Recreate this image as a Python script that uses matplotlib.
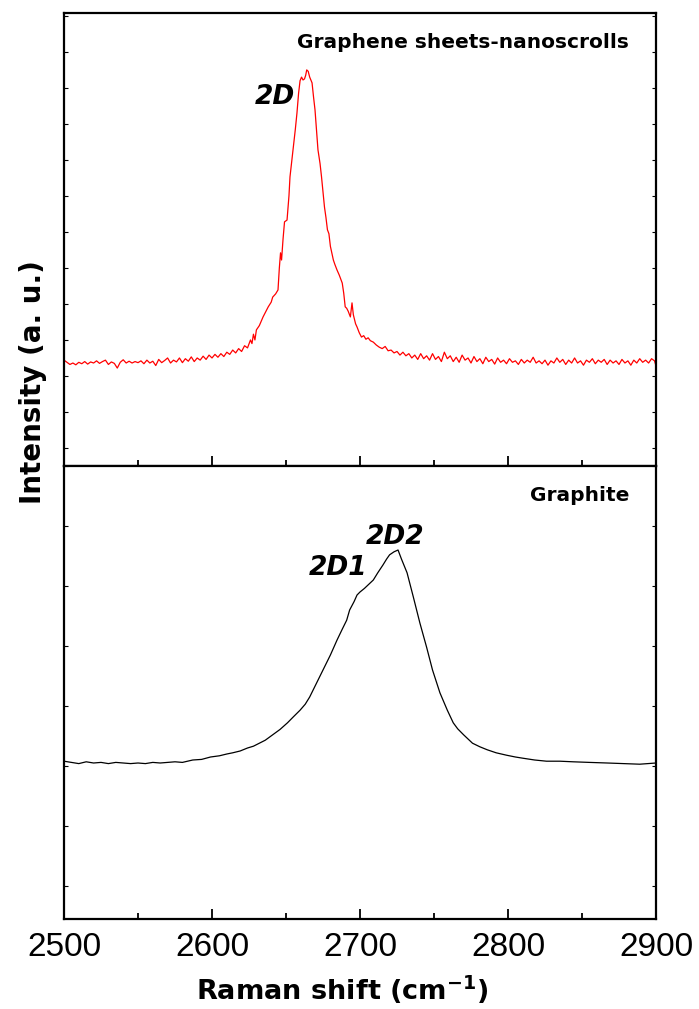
import matplotlib
matplotlib.use("Agg")
import matplotlib.pyplot as plt
from matplotlib.ticker import MultipleLocator
from matplotlib import font_manager

# ---------------- data ----------------
# Graphene sheets-nanoscrolls (red, top panel): (Raman shift cm-1, intensity a.u.)
gns_points = [
    (2500, 244), (2502, 238), (2504, 232), (2506, 236), (2508, 231), (2510, 238), (2512, 234),
    (2514, 240), (2516, 233), (2518, 239), (2520, 236), (2522, 242), (2524, 235), (2526, 240),
    (2528, 244), (2530, 232), (2532, 239), (2534, 235), (2536, 222), (2538, 238), (2540, 245),
    (2542, 236), (2544, 241), (2546, 236), (2548, 240), (2550, 237), (2552, 242), (2554, 234),
    (2556, 244), (2558, 236), (2560, 241), (2562, 229), (2564, 246), (2566, 237), (2568, 243),
    (2570, 250), (2572, 236), (2574, 244), (2576, 239), (2578, 250), (2580, 237), (2582, 248),
    (2584, 241), (2586, 253), (2588, 240), (2590, 250), (2592, 244), (2594, 255), (2596, 246),
    (2598, 258), (2600, 250), (2602, 260), (2604, 252), (2606, 262), (2608, 254), (2610, 266),
    (2612, 260), (2614, 272), (2616, 264), (2618, 276), (2620, 268), (2622, 284), (2624, 278),
    (2626, 300), (2627, 290), (2628, 316), (2629, 300), (2630, 328), (2632, 340), (2634.5, 364),
    (2636, 376), (2638, 392), (2640, 405), (2641, 419), (2643, 428), (2644.6, 439), (2645.5, 500),
    (2646.3, 542), (2647, 522), (2648, 580), (2649, 628), (2650.7, 633), (2652, 700),
    (2652.7, 753), (2654, 800), (2655, 836), (2656.3, 885), (2657.4, 930), (2658.5, 985),
    (2659.5, 1020), (2660.5, 1030), (2661.5, 1022), (2662.5, 1025), (2663.3, 1035), (2664, 1050),
    (2665, 1046), (2666, 1030), (2667.6, 1014), (2668.6, 975), (2669.6, 939), (2670.6, 885),
    (2671.6, 828), (2673, 790), (2674, 753), (2676, 669), (2677, 640), (2678, 606), (2679, 595),
    (2680, 560), (2682, 522), (2683, 510), (2684.5, 494), (2686, 480), (2688, 458), (2689, 430),
    (2690, 392), (2691, 388), (2692, 380), (2693.5, 364), (2694.6, 403), (2695.5, 370),
    (2697, 345), (2698, 336), (2699.5, 320), (2701, 308), (2702.5, 312), (2704, 302),
    (2705.5, 306), (2707, 298), (2709, 294), (2711, 286), (2713, 280), (2715, 276), (2717, 282),
    (2719, 270), (2721, 272), (2723, 264), (2725, 268), (2727, 258), (2729, 266), (2731, 256),
    (2733, 262), (2735, 250), (2737, 258), (2739, 246), (2741, 262), (2743, 248), (2745, 256),
    (2747, 244), (2749, 262), (2751, 246), (2753, 254), (2755, 240), (2757, 266), (2759, 248),
    (2761, 256), (2763, 240), (2765, 252), (2767, 238), (2769, 258), (2771, 244), (2773, 250),
    (2775, 236), (2777, 254), (2779, 240), (2781, 248), (2783, 234), (2785, 252), (2787, 240),
    (2789, 246), (2791, 233), (2793, 250), (2795, 238), (2797, 244), (2799, 234), (2801, 248),
    (2803, 238), (2805, 242), (2807, 232), (2809, 246), (2811, 236), (2813, 244), (2815, 238),
    (2817, 252), (2819, 236), (2821, 242), (2823, 234), (2825, 244), (2827, 230), (2829, 242),
    (2831, 236), (2833, 250), (2835, 238), (2837, 246), (2839, 232), (2841, 244), (2843, 236),
    (2845, 250), (2847, 236), (2849, 242), (2851, 230), (2853, 244), (2855, 238), (2857, 248),
    (2859, 234), (2861, 244), (2863, 238), (2865, 246), (2867, 232), (2869, 244), (2871, 236),
    (2873, 242), (2875, 232), (2877, 246), (2879, 236), (2881, 242), (2883, 230), (2885, 244),
    (2887, 236), (2889, 248), (2891, 238), (2893, 244), (2895, 236), (2897, 248), (2899, 242),
    (2900, 228),
]

# Graphite (black, bottom panel): (Raman shift cm-1, intensity a.u.)
gr_points = [
    (2500, 208), (2505, 206), (2510, 204), (2515, 207), (2520, 205), (2525, 206), (2530, 204),
    (2535, 206), (2540, 205), (2545, 204), (2550, 205), (2555, 204), (2560, 206), (2565, 205),
    (2570, 206), (2575, 207), (2580, 206), (2587, 210), (2593, 211), (2599, 215), (2605, 217),
    (2610, 220), (2614, 222), (2619, 225), (2624, 230), (2628, 233), (2632, 238), (2636, 243),
    (2641, 252), (2646, 261), (2651, 272), (2655, 282), (2659.5, 293), (2663, 303), (2666, 315),
    (2670, 335), (2675, 360), (2680, 385), (2684.5, 410), (2688, 428), (2691, 443), (2693, 460),
    (2696, 474), (2698, 485), (2700, 490), (2703, 496), (2706, 503), (2709, 510), (2712, 522),
    (2715.5, 535), (2718, 545), (2720, 552), (2723, 557), (2725.7, 560), (2728, 545),
    (2731.8, 522), (2736, 482), (2740.5, 438), (2745, 398), (2749, 360), (2754, 322),
    (2759, 293), (2763, 272), (2766, 262), (2770, 252), (2776, 238), (2781, 232), (2786, 227),
    (2792, 222), (2799, 218), (2805, 215), (2810, 213), (2818, 210), (2826, 208), (2835, 208),
    (2844, 207), (2855, 206), (2867, 205), (2878, 204), (2889, 203), (2900, 205),
]

gns_shift = [p[0] for p in gns_points]
gns_int = [p[1] for p in gns_points]
gr_shift = [p[0] for p in gr_points]
gr_int = [p[1] for p in gr_points]

x_ticks = [2500, 2600, 2700, 2800, 2900]
x_tick_labels = ["2500", "2600", "2700", "2800", "2900"]

# ---------------- fonts ----------------
avail = {f.name for f in font_manager.fontManager.ttflist}
narrow = [f for f in ["Liberation Sans Narrow", "Liberation Sans", "DejaVu Sans"] if f in avail]
boldfam = [f for f in ["Noto Sans CJK KR", "DejaVu Sans"] if f in avail]

W, H = 699, 1009
fig = plt.figure(figsize=(W / 100, H / 100), dpi=100)

L, R = 64 / W, 656 / W
ax1 = fig.add_axes([L, 1 - 466 / H, R - L, (466 - 13) / H])
ax2 = fig.add_axes([L, 1 - 919 / H, R - L, (919 - 466) / H])

ax1.plot(gns_shift, gns_int, color="#ff0000", lw=0.9)
ax2.plot(gr_shift, gr_int, color="black", lw=0.9)

ax1.set_ylim(-50, 1208)
ax2.set_ylim(-55, 700)
for ax in (ax1, ax2):
    ax.set_xlim(2500, 2900)
    ax.xaxis.set_major_locator(MultipleLocator(100))
    ax.xaxis.set_minor_locator(MultipleLocator(50))
    ax.yaxis.set_major_locator(MultipleLocator(100))
    ax.tick_params(axis="x", which="major", direction="in", length=7, width=1.3,
                   top=False, bottom=True)
    ax.tick_params(axis="x", which="minor", direction="in", length=4, width=1.3,
                   top=False, bottom=True)
    ax.tick_params(axis="y", which="major", direction="in", length=3, width=0.8,
                   left=True, right=True, labelleft=False)
    for s in ax.spines.values():
        s.set_linewidth(1.6)

ax1.tick_params(axis="x", labelbottom=False)
ax2.set_xticks(x_ticks)
ax2.set_xticklabels(x_tick_labels, family=narrow, fontsize=24)
ax2.tick_params(axis="x", which="major", pad=9)

# panel labels
ax1.text(0.955, 0.935, "Graphene sheets-nanoscrolls", transform=ax1.transAxes,
         ha="right", va="center", family=boldfam, fontweight="bold", fontsize=14.5)
ax2.text(0.955, 0.935, "Graphite", transform=ax2.transAxes,
         ha="right", va="center", family=boldfam, fontweight="bold", fontsize=14.5)

# peak labels
ax1.text(2642.6, 975, "2D", ha="center", va="center", fontsize=19,
         fontweight="bold", fontstyle="italic", family="DejaVu Sans")
ax2.text(2685, 530, "2D1", ha="center", va="center", fontsize=19,
         fontweight="bold", fontstyle="italic", family="DejaVu Sans")
ax2.text(2723.6, 582, "2D2", ha="center", va="center", fontsize=19,
         fontweight="bold", fontstyle="italic", family="DejaVu Sans")

# axis titles
fig.text(33 / W, 1 - 382 / H, "Intensity (a. u.)", rotation=90, ha="center", va="center",
         family=boldfam, fontweight="bold", fontsize=20)
fig.text(342 / W, 1 - 990 / H, "Raman shift (cm$^{\\mathbf{-1}}$)", ha="center", va="center",
         family=boldfam, fontweight="bold", fontsize=19.5)

fig.savefig("out.png", dpi=100)
